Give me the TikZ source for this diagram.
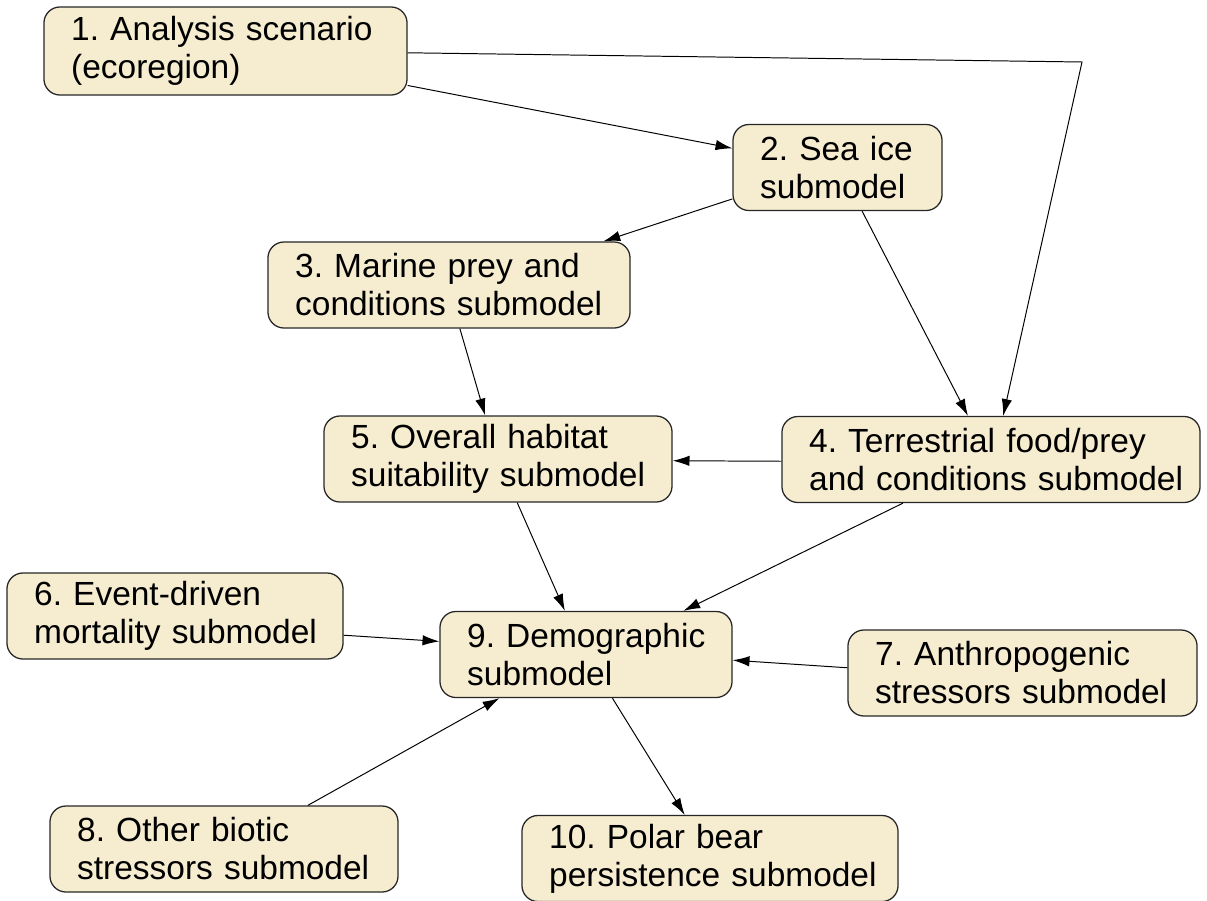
\documentclass[tikz,border=0pt]{standalone}
\usepackage{fontspec}
\setmainfont{Liberation Sans}
\usetikzlibrary{arrows.meta,calc}
\definecolor{boxfill}{RGB}{246,236,208}
\begin{document}
\frenchspacing
\begin{tikzpicture}[x=0.025cm,y=-0.025cm,
  pbox/.style={draw=black!85, line width=0.9pt, fill=boxfill, rounded corners=0.4cm,
    inner xsep=0.68cm, inner ysep=0pt, minimum height=2.15cm, align=left,
    font=\fontsize{23.8}{27}\selectfont},
  conn/.style={draw=black, line width=0.7pt, -{Latex[length=0.42cm,width=0.26cm]}}]
\useasboundingbox (0,0) rectangle (1207,900);
\node[pbox, text width=7.715cm, minimum height=2.2cm] (n1) at (225.5,51) {\mbox{1. Analysis scenario}\\\mbox{(ecoregion)}};
\node[pbox, text width=3.865cm] (n2) at (837.5,167.5) {\mbox{2. Sea ice}\\\mbox{submodel}};
\node[pbox, text width=7.69cm] (n3) at (449,285) {\mbox{3. Marine prey and}\\\mbox{conditions submodel}};
\node[pbox, text width=9.09cm] (n4) at (991,459.5) {\mbox{4. Terrestrial food/prey}\\\mbox{and conditions submodel}};
\node[pbox, text width=7.34cm] (n5) at (498,459) {\mbox{5. Overall habitat}\\\mbox{suitability submodel}};
\node[pbox, text width=7.04cm] (n6) at (175,616) {\mbox{6. Event-driven}\\\mbox{mortality submodel}};
\node[pbox, text width=7.365cm] (n7) at (1022.5,673) {\mbox{7. Anthropogenic}\\\mbox{stressors submodel}};
\node[pbox, text width=7.34cm] (n8) at (224,849) {\mbox{8. Other biotic}\\\mbox{stressors submodel}};
\node[pbox, text width=5.94cm] (n9) at (586,654.5) {\mbox{9. Demographic}\\\mbox{submodel}};
\node[pbox, text width=8.04cm] (n10) at (710,858.5) {\mbox{10. Polar bear}\\\mbox{persistence submodel}};
\coordinate (bend) at (1082,62);
% connectors
\draw[conn] ($(n1.north east)!0.886!(n1.south east)$) -- ($(n2.north west)!0.28!(n2.south west)$);
\draw[conn] ($(n1.north east)!0.52!(n1.south east)$) -- (bend) -- ($(n4.north west)!0.529!(n4.north east)$);
\draw[conn] ($(n2.north west)!0.86!(n2.south west)$) -- ($(n3.north west)!0.925!(n3.north east)$);
\draw[conn] ($(n2.south west)!0.617!(n2.south east)$) -- ($(n4.north west)!0.445!(n4.north east)$);
\draw[conn] ($(n3.south west)!0.53!(n3.south east)$) -- ($(n5.north west)!0.463!(n5.north east)$);
\draw[conn] ($(n4.north west)!0.52!(n4.south west)$) -- ($(n5.north east)!0.52!(n5.south east)$);
\draw[conn] ($(n5.south west)!0.555!(n5.south east)$) -- ($(n9.north west)!0.428!(n9.north east)$);
\draw[conn] ($(n4.south west)!0.29!(n4.south east)$) -- ($(n9.north west)!0.832!(n9.north east)$);
\draw[conn] ($(n6.north east)!0.72!(n6.south east)$) -- ($(n9.north west)!0.35!(n9.south west)$);
\draw[conn] ($(n7.north west)!0.44!(n7.south west)$) -- ($(n9.north east)!0.565!(n9.south east)$);
\draw[conn] ($(n8.north west)!0.74!(n8.north east)$) -- ($(n9.south west)!0.205!(n9.south east)$);
\draw[conn] ($(n9.south west)!0.59!(n9.south east)$) -- ($(n10.north west)!0.433!(n10.north east)$);
\end{tikzpicture}
\end{document}
